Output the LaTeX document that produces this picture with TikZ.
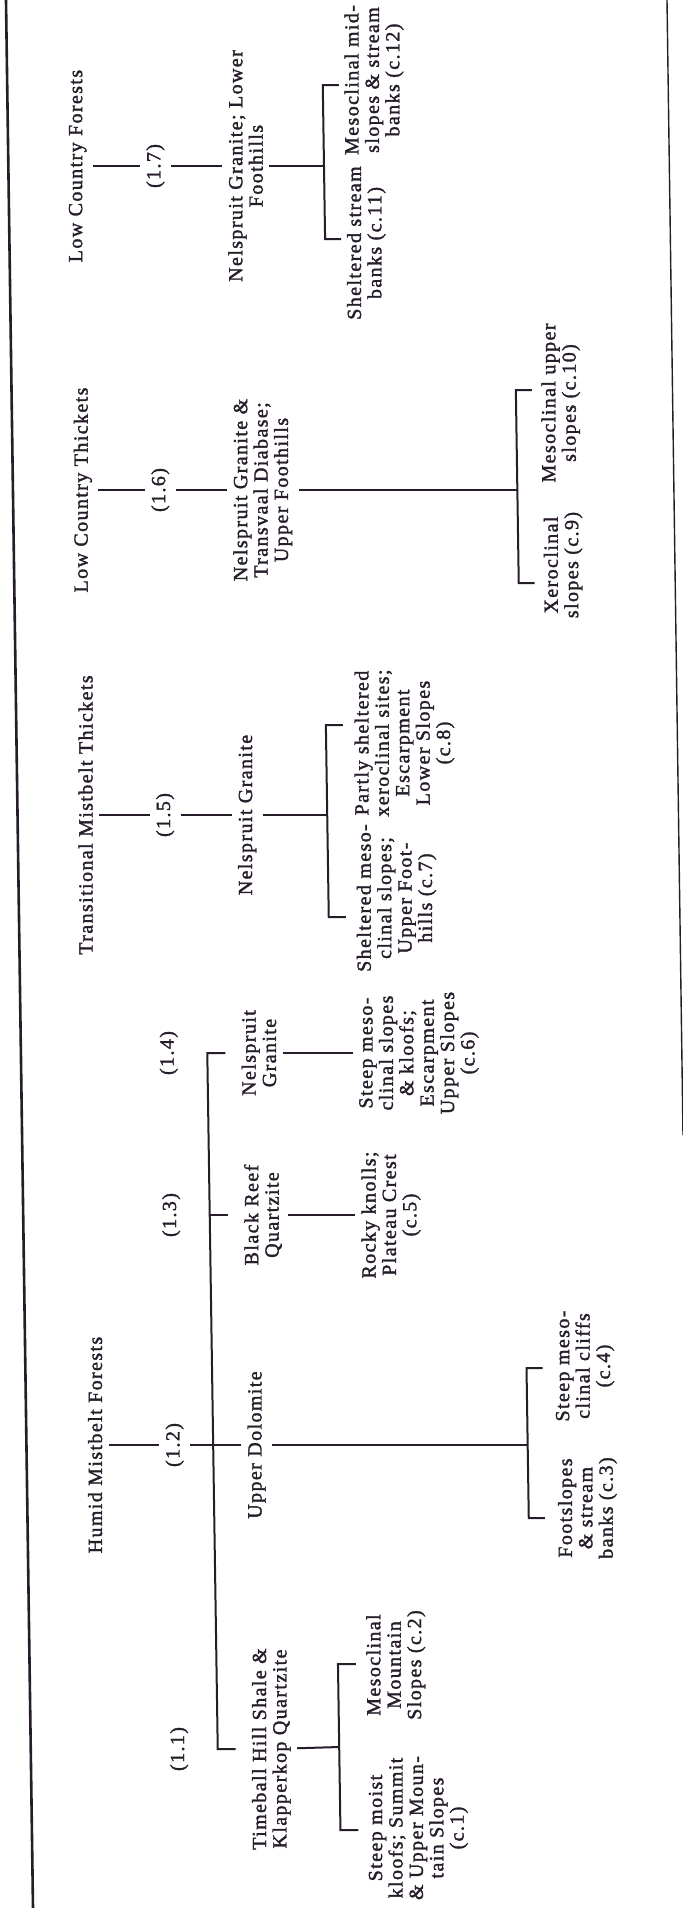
\documentclass[tikz,border=0pt]{standalone}
\usepackage{fontspec}
\setmainfont{Liberation Serif}[LetterSpace=7, FakeBold=1.6]
\usetikzlibrary{calc}
\definecolor{ink}{RGB}{38,28,42}

\begin{document}
\begin{tikzpicture}[x=0.5pt, y=-0.5pt,
    txt/.style={rotate=90, anchor=north, inner sep=3pt, align=center, text=ink, font=\fontsize{10}{10.2}\selectfont},
    link/.style={draw=ink, line width=1pt}]
  \useasboundingbox (0,0) rectangle (683,1908);
  \draw[ink, line width=1.3pt] (6,0) -- (33,1908);
  \draw[ink, line width=0.7pt] (667,0) -- (683,1135);

  \begin{scope}[xslant=-0.015]
    \node[txt] (t17) at (60,166) {Low Country Forests};
    \node[txt] (p17) at (137.5,166) {(1.7)};
    \node[txt] (n17) at (219.5,166) {Nelspruit Granite; Lower\\Foothills};
    \coordinate (k17) at (321.5,166);
    \node[txt] (c12) at (337,80) {Mesoclinal mid-\\slopes \& stream\\banks (c.12)};
    \node[txt] (c11) at (337,243) {Sheltered stream\\banks (c.11)};

    \node[txt] (t16) at (60,490) {Low Country Thickets};
    \node[txt] (p16) at (137.5,490) {(1.6)};
    \node[txt] (n16) at (219.5,490) {Nelspruit Granite \&\\Transvaal Diabase;\\Upper Foothills};
    \coordinate (k16) at (510,490);
    \node[txt] (c10) at (529,403) {Mesoclinal upper\\slopes (c.10)};
    \node[txt] (c9) at (529,565) {Xeroclinal\\slopes (c.9)};

    \node[txt] (t15) at (60,815) {Transitional Mistbelt Thickets};
    \node[txt] (p15) at (137.5,815) {(1.5)};
    \node[txt] (n15) at (219.5,815) {Nelspruit Granite};
    \coordinate (k15) at (315,815);
    \node[txt] (c8) at (337,743) {Partly sheltered\\xeroclinal sites;\\Escarpment\\Lower Slopes\\(c.8)};
    \node[txt] (c7) at (337,898) {Sheltered meso-\\clinal slopes;\\Upper Foot-\\hills (c.7)};

    \node[txt] (p14) at (137.5,1053) {(1.4)};
    \node[txt] (n14) at (219.5,1053) {Nelspruit\\Granite};
    \node[txt] (c6) at (337,1053) {Steep meso-\\clinal slopes\\\& kloofs;\\Escarpment\\Upper Slopes\\(c.6)};
    \node[txt] (p13) at (137.5,1215) {(1.3)};
    \node[txt] (n13) at (219.5,1215) {Black Reef\\Quartzite};
    \node[txt] (c5) at (337,1215) {Rocky knolls;\\Plateau Crest\\(c.5)};

    \node[txt] (t12) at (60,1445) {Humid Mistbelt Forests};
    \node[txt] (p12) at (137.5,1445) {(1.2)};
    \node[txt] (n12) at (219.5,1445) {Upper Dolomite};
    \coordinate (k12) at (506,1445);
    \node[txt] (c4) at (529,1366) {Steep meso-\\clinal cliffs\\(c.4)};
    \node[txt] (c3) at (529,1508) {Footslopes\\\& stream\\banks (c.3)};

    \node[txt] (p11) at (137.5,1749) {(1.1)};
    \node[txt] (n11) at (219.5,1749) {Timeball Hill Shale \&\\Klapperkop Quartzite};
    \coordinate (k11) at (313,1747);
    \node[txt] (c2) at (335,1665) {Mesoclinal\\Mountain\\Slopes (c.2)};
    \node[txt] (c1) at (335,1828) {Steep moist\\kloofs; Summit\\\& Upper Moun-\\tain Slopes\\(c.1)};

    \draw[link] (t17) -- (p17);
    \draw[link] (p17) -- (n17);
    \draw[link] (n17) -- (k17);
    \draw[link] (k17) ++(16,-81) -- ++(-16,0) -- ++(0,154) -- ++(16,0);

    \draw[link] (t16) -- (p16);
    \draw[link] (p16) -- (n16);
    \draw[link] (n16) -- (k16);
    \draw[link] (k16) ++(16,-100) -- ++(-16,0) -- ++(0,193) -- ++(16,0);

    \draw[link] (t15) -- (p15);
    \draw[link] (p15) -- (n15);
    \draw[link] (n15) -- (k15);
    \draw[link] (k15) ++(17,-90) -- ++(-17,0) -- ++(0,192) -- ++(17,0);

    \draw[link] (t12) -- (p12);
    \draw[link] (p12) -- (n12);
    \draw[link] ($(n14.north)+(-10,0)$) -- ++(-18,0) -- ($(n11.north)+(-28,0)$) -- ++(18,0);
    \draw[link] ($(n13.north)+(-10,0)$) -- ++(-18,0);
    \draw[link] (n14) -- (c6);
    \draw[link] (n13) -- (c5);
    \draw[link] (n12) -- (k12);
    \draw[link] (k12) ++(16,-77) -- ++(-16,0) -- ++(0,150) -- ++(16,0);
    \draw[link] (n11) -- (k11);
    \draw[link] (k11) ++(18,-83) -- ++(-18,0) -- ++(0,166) -- ++(18,0);
  \end{scope}
\end{tikzpicture}
\end{document}
